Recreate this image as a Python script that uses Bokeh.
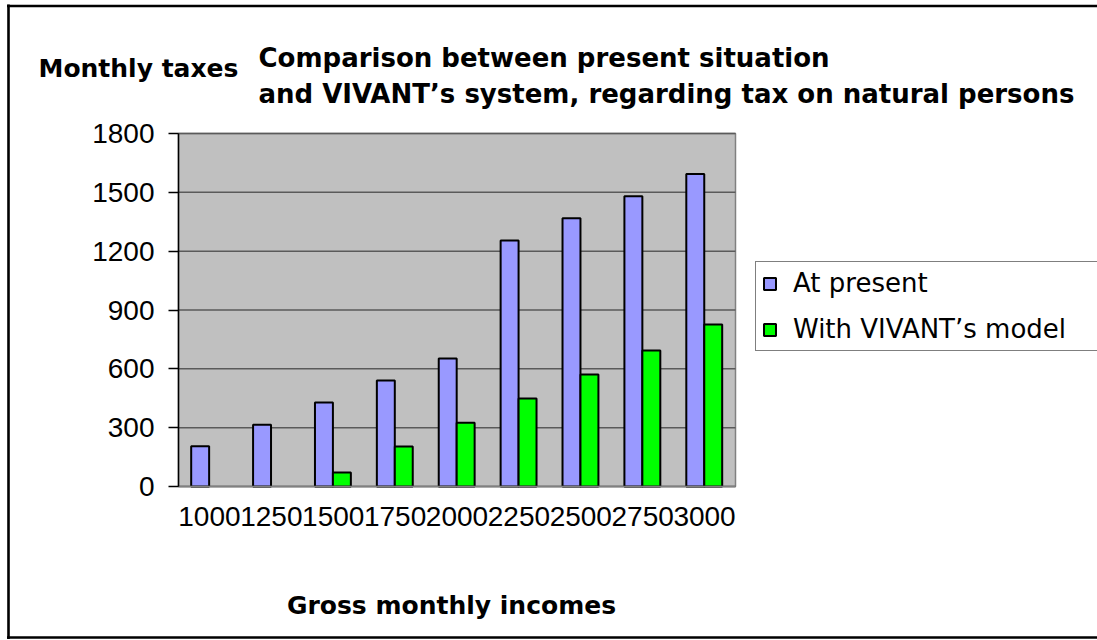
from bokeh.plotting import figure
from bokeh.models import (ColumnDataSource, Range1d, FixedTicker, LinearAxis,
                          Label, Legend, LegendItem)
from bokeh.embed import file_html
from bokeh.resources import INLINE

# ---- data ----
incomes = ["1000", "1250", "1500", "1750", "2000", "2250", "2500", "2750", "3000"]
at_present = [205, 315, 428, 540, 653, 1255, 1368, 1480, 1593]
vivant = [0, 0, 71, 204, 325, 449, 571, 694, 826]
y_ticks = [0, 300, 600, 900, 1200, 1500, 1800]
y_max = 1800

series_names = ["At present", "With VIVANT\u2019s model"]
title_lines = ["Comparison between present situation",
               "and VIVANT\u2019s system, regarding tax on natural persons"]
y_title = "Monthly taxes"
x_title = "Gross monthly incomes"

NUM_FONT = "Liberation Sans"
TXT_FONT = "DejaVu Sans"
BLUE = "#9999FF"
GREEN = "#00FF00"

# ---- canvas geometry (pixels) ----
W, H = 1097, 640
FL, FR, FT, FB = 178, 735, 133, 486          # plot-area box
n = len(incomes)
ppx = (FR - FL) / n                          # pixels per category
upy = y_max / (FB - FT)                      # value units per pixel


def px2x(px):
    return (px - FL) / ppx


def px2y(py):
    return (FB - py) * upy


p = figure(width=W, height=H, output_backend="svg", toolbar_location=None,
           x_range=Range1d(px2x(0), px2x(W)), y_range=Range1d(px2y(H), px2y(0)),
           x_axis_location=None, y_axis_location=None, min_border=0)
p.background_fill_color = "white"
p.border_fill_color = "white"
p.outline_line_color = None
p.xgrid.visible = False
p.ygrid.visible = False

# outer chart border (left, top, bottom)
p.segment(x0=[px2x(8), px2x(6.5), px2x(6.5)],
          x1=[px2x(8), px2x(W + 5), px2x(W + 5)],
          y0=[px2y(4), px2y(5.5), px2y(637)],
          y1=[px2y(638.5), px2y(5.5), px2y(637)],
          line_color="black", line_width=2.6)

# plot area
p.quad(left=0, right=n, bottom=0, top=y_max, fill_color="#C0C0C0",
       line_color="#808080", line_width=1.5)
p.segment(x0=[0] * len(y_ticks), x1=[n] * len(y_ticks), y0=y_ticks, y1=y_ticks,
          line_color="#5a5a5a", line_width=1.5)

# bars
centers = [i + 0.5 for i in range(n)]
src_a = ColumnDataSource(dict(x=[c - 0.15 for c in centers], val=at_present))
vi_x = [c + 0.14 for c, v in zip(centers, vivant) if v > 0]
vi_val = [v for v in vivant if v > 0]
src_b = ColumnDataSource(dict(x=vi_x, val=vi_val))
r_a = p.vbar(x="x", top="val", width=0.29, source=src_a,
             fill_color=BLUE, line_color="black", line_width=2)
r_b = p.vbar(x="x", top="val", width=0.29, source=src_b,
             fill_color=GREEN, line_color="black", line_width=2)

# axes
yax = LinearAxis(fixed_location=0, bounds=(0, y_max),
                 ticker=FixedTicker(ticks=y_ticks))
yax.axis_line_color = "black"
yax.axis_line_width = 1.5
yax.major_tick_line_color = "black"
yax.major_tick_line_width = 1.5
yax.major_tick_out = 10
yax.major_tick_in = 0
yax.minor_tick_line_color = None
yax.major_label_text_font = NUM_FONT
yax.major_label_text_font_size = "28px"
yax.major_label_text_color = "black"
yax.major_label_standoff = 14
p.add_layout(yax, "left")

xax = LinearAxis(fixed_location=0, bounds=(0, n),
                 ticker=FixedTicker(ticks=centers))
xax.major_label_overrides = {c: lab for c, lab in zip(centers, incomes)}
xax.axis_line_color = "#808080"
xax.axis_line_width = 1.5
xax.major_tick_line_color = None
xax.minor_tick_line_color = None
xax.major_label_text_font = NUM_FONT
xax.major_label_text_font_size = "28px"
xax.major_label_text_color = "black"
xax.major_label_standoff = 14
p.add_layout(xax, "below")


# texts
def bold_label(x, y, text, size="25px", align="left"):
    return Label(x=x, y=y, text=text, text_font=TXT_FONT,
                 text_font_size=size, text_font_style="bold",
                 text_color="black", text_align=align,
                 text_baseline="alphabetic")


p.add_layout(bold_label(px2x(38), px2y(68), y_title))
p.add_layout(bold_label(px2x(258), px2y(57), title_lines[0], size="26px"))
p.add_layout(bold_label(px2x(258), px2y(93), title_lines[1], size="26px"))
p.add_layout(bold_label(px2x(451), px2y(605), x_title, align="center"))

legend = Legend(items=[LegendItem(label=series_names[0], renderers=[r_a]),
                       LegendItem(label=series_names[1], renderers=[r_b])],
                location=(755, H - 351), margin=0, padding=6, spacing=16,
                glyph_width=15, glyph_height=15, label_height=30,
                label_width=330, label_standoff=16,
                label_text_font=TXT_FONT, label_text_font_size="26px",
                label_text_color="black",
                border_line_color="black", border_line_width=1,
                background_fill_color="white", background_fill_alpha=1)
p.add_layout(legend, "center")

open("out.html", "w").write(file_html(p, INLINE))
